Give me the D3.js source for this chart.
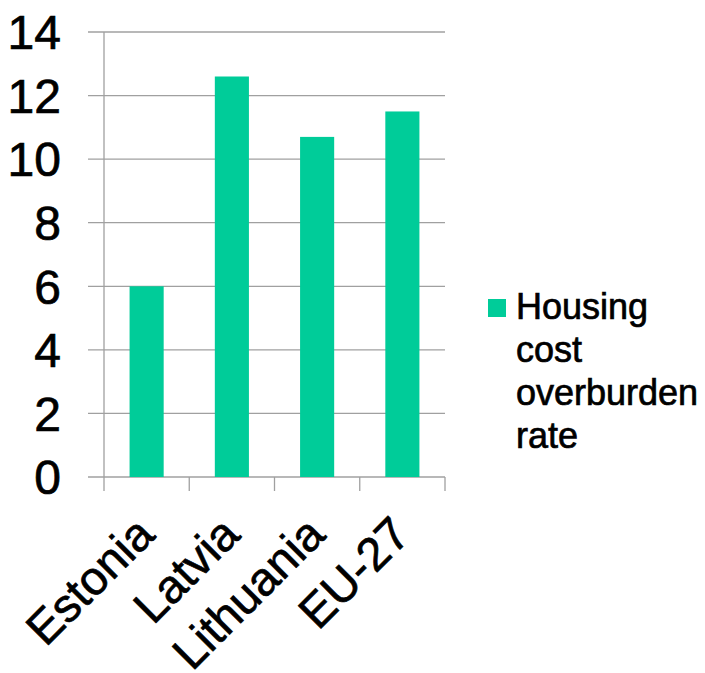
<!DOCTYPE html>
<html>
<head>
<meta charset="utf-8">
<script src="https://cdn.jsdelivr.net/npm/d3@7"></script>
<style>
  html, body { margin: 0; padding: 0; background: #fff; }
  svg { display: block; font-family: "Liberation Sans", Arial, sans-serif; }
  text { stroke: #000; stroke-width: 0.7px; }
</style>
</head>
<body>
<svg id="chart" width="705" height="673"></svg>
<script>
// Housing cost overburden rate (%), Baltic states vs EU-27
const categories = ["Estonia", "Latvia", "Lithuania", "EU-27"];
const values = [6.0, 12.6, 10.7, 11.5];
const yTicks = [0, 2, 4, 6, 8, 10, 12, 14];
const seriesName = ["Housing", "cost", "overburden", "rate"];

const svg = d3.select("#chart");
const plot = { left: 104, right: 445, top: 32, bottom: 477 };
const barColor = "#00cc99";
const gridColor = "#a0a0a0";

const x = d3.scaleBand().domain(categories).range([plot.left, plot.right]).padding(0);
const y = d3.scaleLinear().domain([0, 14]).range([plot.bottom, plot.top]);

// horizontal gridlines, extending left of the axis as tick marks
svg.append("g").selectAll("line").data(yTicks).join("line")
  .attr("x1", plot.left - 16).attr("x2", plot.right)
  .attr("y1", d => y(d)).attr("y2", d => y(d))
  .attr("stroke", gridColor).attr("stroke-width", 1.3);

// vertical axis line
svg.append("line")
  .attr("x1", plot.left).attr("x2", plot.left)
  .attr("y1", plot.top).attr("y2", plot.bottom + 14)
  .attr("stroke", gridColor).attr("stroke-width", 1.3);

// category boundary ticks below the baseline
const bounds = categories.map(c => x(c)).concat([plot.right]);
svg.append("g").selectAll("line").data(bounds.slice(1)).join("line")
  .attr("x1", d => d).attr("x2", d => d)
  .attr("y1", plot.bottom).attr("y2", plot.bottom + 14)
  .attr("stroke", gridColor).attr("stroke-width", 1.3);

// bars
const barW = x.bandwidth() * 0.4;
svg.append("g").selectAll("rect").data(values).join("rect")
  .attr("x", (d, i) => x(categories[i]) + (x.bandwidth() - barW) / 2)
  .attr("width", barW)
  .attr("y", d => y(d))
  .attr("height", d => y(0) - y(d))
  .attr("fill", barColor);

// y tick labels
svg.append("g").selectAll("text").data(yTicks).join("text")
  .attr("x", 61).attr("y", d => y(d))
  .attr("dy", "0.36em")
  .attr("text-anchor", "end")
  .attr("font-size", 48)
  .attr("fill", "#000")
  .text(d => d);

// rotated category labels
svg.append("g").selectAll("text").data(categories).join("text")
  .attr("text-anchor", "end")
  .attr("font-size", 47)
  .attr("fill", "#000")
  .attr("transform", d => `translate(${x(d) + x.bandwidth() / 2 + 10},${plot.bottom + 60}) rotate(-45)`)
  .text(d => d);

// legend
const legend = svg.append("g");
legend.append("rect")
  .attr("x", 488).attr("y", 299).attr("width", 18).attr("height", 18)
  .attr("fill", barColor);
legend.selectAll("text").data(seriesName).join("text")
  .attr("x", 516).attr("y", (d, i) => 319 + i * 43)
  .attr("font-size", 36)
  .attr("fill", "#000")
  .text(d => d);
</script>
</body>
</html>
